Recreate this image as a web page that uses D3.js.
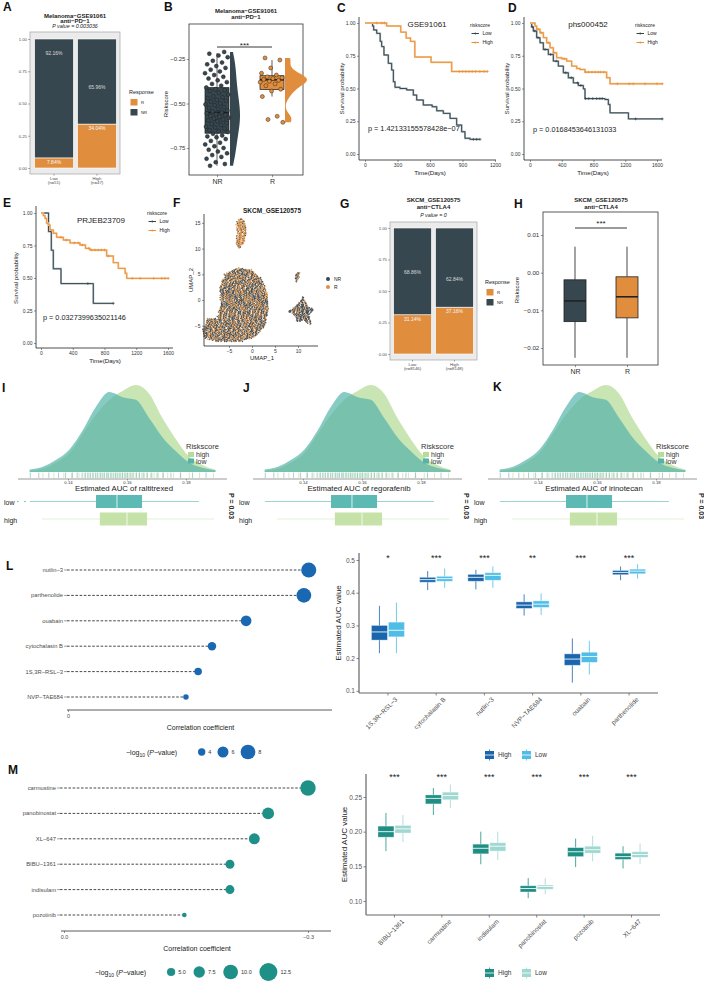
<!DOCTYPE html>
<html>
<head>
<meta charset="utf-8">
<script src="https://cdn.jsdelivr.net/npm/d3@7/dist/d3.min.js"></script>
<style>
html,body{margin:0;padding:0;background:#fff;}
svg{display:block;}
</style>
</head>
<body>
<svg id="fig" width="704" height="985" xmlns="http://www.w3.org/2000/svg"></svg>
<script>
// ======================= DATA =======================
// A : Melanoma-GSE91061 anti-PD-1 response by risk group
const aGroups = ["Low", "High"];
const aGroupN = ["(n=51)", "(n=47)"];
const aPctR = [7.84, 34.04];
const aPctNR = [92.16, 65.96];
const aPValue = "0.003036";

// B : riskscore by response (raincloud)
const bGroups = ["NR", "R"];
const bRiskNR = [-0.85,-0.84,-0.83,-0.81,-0.80,-0.79,-0.78,-0.77,-0.76,-0.75,-0.74,-0.73,-0.72,-0.71,-0.70,-0.69,-0.685,-0.68,-0.67,
  -0.66,-0.655,-0.65,-0.64,-0.635,-0.63,-0.62,-0.615,-0.61,-0.60,-0.595,-0.59,-0.585,-0.58,-0.575,-0.57,-0.565,-0.56,-0.555,-0.55,
  -0.545,-0.54,-0.53,-0.525,-0.52,-0.51,-0.505,-0.50,-0.49,-0.485,-0.48,-0.47,-0.465,-0.46,-0.45,-0.44,-0.43,-0.425,-0.42,
  -0.41,-0.40,-0.39,-0.38,-0.37,-0.36,-0.35,-0.34,-0.33,-0.32,-0.31,-0.30,-0.29,-0.28,-0.27,-0.26,-0.24,-0.23,-0.22,-0.21];
const bRiskR = [-0.244,-0.256,-0.30,-0.33,-0.34,-0.35,-0.355,-0.36,-0.365,-0.37,-0.375,-0.38,-0.39,-0.40,-0.42,-0.43,-0.461,-0.572,-0.59,-0.606];
const bBoxNR = [-0.85, -0.667, -0.55, -0.411, -0.217];   // min, q1, median, q3, max
const bBoxR  = [-0.461, -0.422, -0.367, -0.344, -0.256];

// C : GSE91061 survival
const cLowT  = [0,70,80,108,140,154,175,215,246,262,277,323,385,446,477,538,620,662,723,785,846,892,923,969,1062];
const cLowS  = [1,0.977,0.947,0.921,0.86,0.82,0.756,0.692,0.641,0.552,0.509,0.50,0.489,0.45,0.412,0.374,0.361,0.33,0.31,0.272,0.221,0.17,0.12,0.112,0.112];
const cLowCensor  = [1000,1030,1062];
const cHighT = [0,200,330,380,420,460,610,800,1130];
const cHighS = [1,0.977,0.93,0.885,0.86,0.74,0.70,0.63,0.63];
const cHighCensor = [108,154,180,870,900,930,960,990,1020,1060,1100,1130];
const cPText = "p = 1.42133155578428e\u221207";

// D : phs000452 survival
const dLowT  = [0,21,42,84,126,168,231,294,357,420,483,546,609,672,693,945,987,1008,1240,1667];
const dLowS  = [1,0.97,0.939,0.888,0.849,0.798,0.76,0.709,0.671,0.62,0.582,0.543,0.523,0.497,0.423,0.416,0.378,0.314,0.268,0.268];
const dLowCensor  = [30,60,100,190,260,330,450,520,600,640,700,740,790,840,880,910,1330,1667];
const dHighT = [0,63,84,126,168,210,252,294,336,399,462,525,588,630,693,966,1008,1667];
const dHighS = [1,0.977,0.952,0.926,0.888,0.849,0.811,0.773,0.735,0.727,0.709,0.671,0.653,0.645,0.625,0.582,0.536,0.536];
const dHighCensor = [100,140,230,300,430,700,740,780,820,860,890,930,1100,1250,1300,1450,1600,1667];
const dPText = "p = 0.0168453646131033";

// E : PRJEB23709 survival
const eLowT  = [0,95,130,155,252,659,911];
const eLowS  = [1,0.857,0.714,0.571,0.457,0.305,0.305];
const eLowCensor  = [590,911];
const eHighT = [0,29,50,71,92,113,155,197,281,365,491,560,617,827,911,974,1060,1080,1604];
const eHighS = [1,0.98,0.959,0.921,0.908,0.869,0.844,0.813,0.792,0.77,0.754,0.728,0.715,0.669,0.618,0.574,0.536,0.497,0.497];
const eHighCensor = [250,320,420,470,520,600,640,680,720,760,800,850,1150,1250,1420,1520,1560,1604];
const ePText = "p = 0.0327399635021146";

// F : UMAP clusters (outlines in UMAP units, share of R cells)
const fClusterNames = ["main", "top", "right", "tiny"];
const fClusterShareR = [0.45, 0.8, 0.28, 0.35];
const fClusterOutlines = [
  [[-6,5],[-3,6.3],[0,5.8],[2.2,4],[3.4,1],[3.6,-2],[2.8,-5],[1,-7],[-2,-8],[-5,-8],[-8,-8],[-10.4,-7.4],[-10.8,-5.6],[-9.6,-3.6],[-7.6,-3.6],[-6.8,-1],[-7,2.5]],
  [[-3.4,15.2],[-2.4,16],[-1.4,15],[-1.2,13],[-1.6,11.2],[-2.6,10],[-3.6,10.8],[-3.2,12.8]],
  [[7.8,-2.2],[9.5,-1.2],[10.6,-0.2],[11.2,0.8],[11.8,-0.8],[13.4,-1.9],[12.4,-3],[12.9,-4.9],[11,-4],[9.8,-4.3],[9.4,-3]],
  [[9.3,5.2],[10.4,5.3],[10.1,3.9],[9.7,3.3],[9.4,4]]
];

// G : SKCM_GSE120575 anti-CTLA4
const gGroups = ["Low", "High"];
const gGroupN = ["(n=8146)", "(n=8148)"];
const gPctR = [31.14, 37.16];
const gPctNR = [68.86, 62.84];
const gPValue = "0";

// H : riskscore by response
const hGroups = ["NR", "R"];
const hBoxNR = [-0.0226, -0.013, -0.0075, -0.0019, 0.0069];
const hBoxR  = [-0.0226, -0.012, -0.0064, -0.0011, 0.0069];

// I, J, K : estimated AUC densities
const ijkDrugs = ["raltitrexed", "regorafenib", "irinotecan"];
const ijkPText = ["P = 0.03", "P = 0.03", "P = 0.03"];
const densGrid = [0.127,0.1315,0.136,0.1405,0.145,0.1495,0.154,0.1585,0.163,0.1675,0.172,0.1765,0.181,0.1855,0.19];
const densLow  = [0.03,0.06,0.14,0.26,0.48,0.75,0.92,0.86,0.83,0.62,0.40,0.24,0.11,0.05,0.02];
const densHigh = [0.015,0.04,0.11,0.22,0.44,0.66,0.83,0.93,1.0,0.90,0.62,0.38,0.18,0.08,0.025];
const aucBoxLow  = [0.1271, 0.1495, 0.1566, 0.1651, 0.1844];
const aucBoxHigh = [0.1312, 0.1508, 0.1600, 0.1668, 0.1895];
const aucOutliersLow = [0.1230, 0.1254];
const rugLow = [0.1272,0.1301,0.1335,0.1368,0.1392,0.1415,0.1431,0.1448,0.1459,0.1467,0.1476,0.1484,0.1493,0.1501,0.1509,0.1516,0.1523,0.1531,0.1538,0.1546,0.1553,0.1561,0.1569,0.1577,0.1585,0.1594,0.1602,0.1611,0.1620,0.1631,0.1642,0.1655,0.1668,0.1684,0.1702,0.1723,0.1749,0.1781,0.1822,0.1868];
const rugHigh = [0.1315,0.1352,0.1386,0.1412,0.1437,0.1455,0.1471,0.1486,0.1498,0.1511,0.1522,0.1534,0.1545,0.1556,0.1565,0.1574,0.1583,0.1591,0.1599,0.1607,0.1615,0.1623,0.1632,0.1641,0.1650,0.1659,0.1669,0.1680,0.1692,0.1706,0.1721,0.1738,0.1758,0.1782,0.1811,0.1846,0.1893];

// L : correlation lollipop + AUC boxes
const lDrugs = ["nutlin\u22123", "parthenolide", "ouabain", "cytochalasin B", "1S,3R\u2212RSL\u22123", "NVP\u2212TAE684"];
const lCorr = [0.296, 0.290, 0.219, 0.177, 0.160, 0.145];
const lLogP = [8.2, 8.0, 5.8, 4.6, 4.1, 3.0];
const lSizeBreaks = [4, 6, 8];
const lBoxDrugs = ["1S,3R\u2212RSL\u22123", "cytochalasin B", "nutlin\u22123", "NVP\u2212TAE684", "ouabain", "parthenolide"];
const lSig = ["*", "***", "***", "**", "***", "***"];
const lHigh = [[0.215,0.255,0.28,0.30,0.36],[0.408,0.432,0.44,0.447,0.466],[0.41,0.435,0.447,0.456,0.47],[0.33,0.352,0.362,0.372,0.395],[0.125,0.178,0.197,0.213,0.26],[0.438,0.455,0.462,0.468,0.48]];
const lLow  = [[0.215,0.265,0.285,0.31,0.37],[0.415,0.435,0.443,0.45,0.474],[0.415,0.438,0.453,0.461,0.48],[0.332,0.355,0.365,0.375,0.398],[0.15,0.187,0.205,0.218,0.253],[0.443,0.458,0.466,0.472,0.487]];
const lYTicks = [0.1, 0.2, 0.3, 0.4, 0.5];

// M : correlation lollipop + AUC boxes
const mDrugs = ["carmustine", "panobinostat", "XL\u2212647", "BIBU\u22121361", "indisulam", "pozotinib"];
const mCorr = [-0.300, -0.251, -0.234, -0.204, -0.204, -0.148];
const mLogP = [10.5, 7.8, 7.1, 5.6, 5.6, 2.2];
const mSizeBreaks = [5.0, 7.5, 10.0, 12.5];
const mBoxDrugs = ["BIBU\u22121361", "carmustine", "indisulam", "panobinostat", "pozotinib", "XL\u2212647"];
const mSig = ["***", "***", "***", "***", "***", "***"];
const mHigh = [[0.172,0.192,0.2,0.208,0.227],[0.224,0.24,0.248,0.253,0.263],[0.153,0.168,0.176,0.182,0.2],[0.104,0.113,0.118,0.122,0.133],[0.149,0.164,0.171,0.177,0.19],[0.147,0.16,0.164,0.169,0.179]];
const mLow  = [[0.185,0.198,0.204,0.209,0.224],[0.234,0.246,0.252,0.257,0.268],[0.159,0.172,0.179,0.184,0.2],[0.11,0.117,0.121,0.123,0.133],[0.157,0.169,0.174,0.179,0.194],[0.153,0.163,0.167,0.171,0.183]];
const mYTicks = [0.10, 0.15, 0.20, 0.25];

// ======================= STYLE =======================
const FONT = "'Liberation Sans', Arial, Helvetica, sans-serif";
const C_NR = "#37474f", C_R = "#e08e3e";
const C_KM_LOW = "#34444c", C_KM_HIGH = "#e8913a";
const C_KM_LOW_HALO = "#a9b6bb", C_KM_HIGH_HALO = "#f6c592";
const C_DHIGH = "#b5dc9a", C_DLOW = "#56b3ab";
const C_BOX_LOW = "#5cb9b3", C_BOX_HIGH = "#c5e2a8";
const C_L = "#1b68b2", C_LHIGH = "#1a66ad", C_LLOW = "#4fbde6";
const C_M = "#1f9088", C_MHIGH = "#1f8f85", C_MLOW = "#9fd7d1";

const svg = d3.select("#fig").attr("font-family", FONT);
svg.append("rect").attr("width", 704).attr("height", 985).attr("fill", "#fff");

function txt(g, x, y, s, o = {}) {
  const t = g.append("text").attr("x", x).attr("y", y).text(s)
    .attr("font-size", o.size || 6).attr("fill", o.fill || "#222")
    .attr("text-anchor", o.anchor || "start");
  if (o.weight) t.attr("font-weight", o.weight);
  if (o.italic) t.attr("font-style", "italic");
  if (o.rotate != null) t.attr("transform", `rotate(${o.rotate},${x},${y})`);
  return t;
}
function axisG(g, orient, scale, o) {
  const gen = (orient === "left" ? d3.axisLeft : d3.axisBottom)(scale)
    .tickValues(o.ticks).tickSizeInner(o.tick ?? 2).tickSizeOuter(0).tickPadding(o.pad ?? 1.5);
  if (o.fmt) gen.tickFormat(o.fmt);
  const ag = g.append("g")
    .attr("transform", orient === "left" ? `translate(${o.at},0)` : `translate(0,${o.at})`)
    .call(gen);
  ag.attr("font-family", FONT).attr("font-size", o.size ?? 5);
  ag.select(".domain").remove();
  ag.selectAll(".tick line").attr("stroke", o.stroke ?? "#333").attr("stroke-width", o.sw ?? 0.5);
  ag.selectAll(".tick text").attr("fill", o.fill ?? "#333");
  return ag;
}
function hline(g, x1, x2, y, col, w) {
  return g.append("line").attr("x1", x1).attr("x2", x2).attr("y1", y).attr("y2", y).attr("stroke", col).attr("stroke-width", w);
}
function vline(g, x, y1, y2, col, w) {
  return g.append("line").attr("x1", x).attr("x2", x).attr("y1", y1).attr("y2", y2).attr("stroke", col).attr("stroke-width", w);
}

// panel letters
const letters = [["A",3,11],["B",164,11],["C",337,12],["D",508,12],["E",3,207],["F",173,207],["G",340,208],["H",514,208],["I",2,392],["J",243,392],["K",493,391],["L",6,570],["M",8,774]];
letters.forEach(([l, x, y]) => txt(svg, x, y, l, {size: 12, weight: "bold", fill: "#111"}));

// ======================= A & G =======================
function stackPanel(o) {
  const g = svg.append("g");
  const [bx0, by0, bx1, by1] = o.box;
  g.append("rect").attr("x", bx0).attr("y", by0).attr("width", bx1 - bx0).attr("height", by1 - by0)
    .attr("fill", "#ebebeb").attr("stroke", "#a3a3a3").attr("stroke-width", 0.7);
  const y = d3.scaleLinear().domain([0, 1]).range(o.yr);
  const x = d3.scaleBand().domain(o.groups).range(o.xr).paddingInner(0.1).paddingOuter(0.04);
  axisG(g, "left", y, {at: bx0, ticks: [0, 0.25, 0.5, 0.75, 1], fmt: d3.format(".2f"), size: 4.3, fill: "#4d4d4d", stroke: "#4d4d4d", tick: 1.8, pad: 1.2});
  o.groups.forEach((grp, i) => {
    const r = o.pctR[i] / 100, n = o.pctNR[i] / 100, bx = x(grp), bw = x.bandwidth(), cx = bx + bw / 2;
    g.append("rect").attr("x", bx).attr("y", y(r)).attr("width", bw).attr("height", y(0) - y(r))
      .attr("fill", C_R).attr("stroke", "#fff").attr("stroke-width", 0.6);
    g.append("rect").attr("x", bx).attr("y", y(r + n)).attr("width", bw).attr("height", y(r) - y(r + n))
      .attr("fill", C_NR).attr("stroke", "#fff").attr("stroke-width", 0.6);
    txt(g, cx, y(n) + 6.3, d3.format(".2f")(o.pctNR[i]) + "%", {size: 5, fill: "#d9d9d9", anchor: "middle"});
    txt(g, cx, y(r) + 6.3, d3.format(".2f")(o.pctR[i]) + "%", {size: 5, fill: "#f5f5f5", anchor: "middle"});
    vline(g, cx, by1, by1 + 1.6, "#4d4d4d", 0.5);
    txt(g, cx, by1 + 5.5, grp, {size: 4.3, fill: "#4d4d4d", anchor: "middle"});
    txt(g, cx, by1 + 10, o.ns[i], {size: 4.3, fill: "#4d4d4d", anchor: "middle"});
  });
  const tc = (bx0 + bx1) / 2;
  txt(g, tc, o.ty[0], o.title1, {size: 6, weight: "bold", anchor: "middle"});
  txt(g, tc, o.ty[1], o.title2, {size: 6, weight: "bold", anchor: "middle"});
  txt(g, tc, o.ty[2], "P value = " + o.pval, {size: 5.3, italic: true, anchor: "middle"});
  const [lx, ly] = o.leg;
  txt(g, lx, ly, "Response", {size: 5.5});
  [["R", C_R], ["NR", C_NR]].forEach(([lab, col], k) => {
    g.append("rect").attr("x", lx + 1.5).attr("y", ly + 5 + k * 10).attr("width", 7).attr("height", 6.5).attr("fill", col);
    txt(g, lx + 12, ly + 10.3 + k * 10, lab, {size: 4.3});
  });
}
stackPanel({groups: aGroups, ns: aGroupN, pctR: aPctR, pctNR: aPctNR, pval: aPValue,
  title1: "Melanoma\u2212GSE91061", title2: "anti\u2212PD\u22121",
  box: [30, 32, 120, 174], yr: [168, 39], xr: [33, 118], ty: [17.5, 22.5, 28], leg: [129, 94]});
stackPanel({groups: gGroups, ns: gGroupN, pctR: gPctR, pctNR: gPctNR, pval: gPValue,
  title1: "SKCM_GSE120575", title2: "anti\u2212CTLA4",
  box: [390, 222, 477, 360], yr: [354, 228], xr: [392, 475], ty: [202, 209, 216.5], leg: [485, 284]});

// ======================= B =======================
function nrd0(v) {
  const s = v.slice().sort(d3.ascending);
  const iqr = d3.quantileSorted(s, 0.75) - d3.quantileSorted(s, 0.25);
  return 0.9 * Math.min(d3.deviation(s), iqr / 1.34) * Math.pow(s.length, -0.2);
}
function kde(values, bw) {
  const lo = d3.min(values), hi = d3.max(values);
  return d3.range(61).map(i => {
    const v = lo + (hi - lo) * i / 60;
    return [v, d3.mean(values, d => Math.exp(-0.5 * ((v - d) / bw) ** 2))];
  });
}
(function panelB() {
  const g = svg.append("g");
  const box = [189, 24, 303, 175];
  g.append("rect").attr("x", box[0]).attr("y", box[1]).attr("width", box[2] - box[0]).attr("height", box[3] - box[1])
    .attr("fill", "none").attr("stroke", "#333").attr("stroke-width", 0.8);
  const y = d3.scaleLinear().domain([-0.75, -0.25]).range([148, 59]);
  const x = d3.scalePoint().domain(bGroups).range([217, 272]);
  axisG(g, "left", y, {at: box[0], ticks: [-0.75, -0.5, -0.25], fmt: d3.format(".2f"), size: 6, tick: 2.2});
  axisG(g, "bottom", x, {at: box[3], ticks: bGroups, size: 7, tick: 2.2, pad: 1.5});
  const sets = [[bRiskNR, bBoxNR, C_NR, 10], [bRiskR, bBoxR, C_R, 22]];
  sets.forEach(([vals, st, col, vw], i) => {
    const cx = x(bGroups[i]);
    const dens = kde(vals, nrd0(vals));
    const dmax = d3.max(dens, d => d[1]);
    const vx0 = cx + 13;
    g.append("path").datum(dens)
      .attr("d", d3.area().curve(d3.curveBasis).y(d => y(d[0])).x0(vx0).x1(d => vx0 + d[1] / dmax * vw))
      .attr("fill", col);
    vline(g, cx, y(st[0]), y(st[1]), "#1a1a1a", 0.7);
    vline(g, cx, y(st[3]), y(st[4]), "#1a1a1a", 0.7);
    g.append("rect").attr("x", cx - 12).attr("y", y(st[3])).attr("width", 24).attr("height", y(st[1]) - y(st[3]))
      .attr("fill", col).attr("stroke", "#1a1a1a").attr("stroke-width", 0.7);
    hline(g, cx - 12, cx + 12, y(st[2]), "#1a1a1a", 1.5);
    vals.forEach((v, k) => {
      const jx = cx + (((k * 0.6180339887 + 0.21) % 1) - 0.5) * 24;
      g.append("circle").attr("cx", jx).attr("cy", y(v)).attr("r", 2)
        .attr("fill", col).attr("stroke", "#1a1a1a").attr("stroke-width", 0.45);
    });
  });
  hline(g, x("NR"), x("R"), 47, "#222", 0.9);
  txt(g, (x("NR") + x("R")) / 2, 47.5, "***", {size: 8, anchor: "middle"});
  txt(g, 168, 104, "Riskscore", {size: 6, anchor: "middle", rotate: -90});
  txt(g, 246, 13, "Melanoma\u2212GSE91061", {size: 6, weight: "bold", anchor: "middle"});
  txt(g, 246, 19, "anti\u2212PD\u22121", {size: 6, weight: "bold", anchor: "middle"});
})();

// ======================= C, D, E (KM) =======================
function stepAt(T, S, t) {
  let s = S[0];
  for (let i = 0; i < T.length; i++) if (T[i] <= t) s = S[i];
  return s;
}
function kmPanel(o) {
  const g = svg.append("g");
  const x = d3.scaleLinear().domain([0, o.tMax]).range(o.tr);
  const y = d3.scaleLinear().domain([0, 1]).range(o.sr);
  vline(g, o.ax, o.ayTop, o.ay, "#222", 0.8);
  hline(g, o.ax, o.axRight, o.ay, "#222", 0.8);
  axisG(g, "left", y, {at: o.ax, ticks: [0, 0.25, 0.5, 0.75, 1], fmt: d3.format(".2f"), size: 5, tick: 2});
  axisG(g, "bottom", x, {at: o.ay, ticks: o.xTicks, fmt: d3.format("d"), size: 5, tick: 2});
  const line = d3.line().x(d => x(d[0])).y(d => y(d[1])).curve(d3.curveStepAfter);
  [[o.lowT, o.lowS, o.lowC, C_KM_LOW, C_KM_LOW_HALO], [o.highT, o.highS, o.highC, C_KM_HIGH, C_KM_HIGH_HALO]].forEach(([T, S, Cn, col, halo]) => {
    const data = d3.zip(T, S);
    g.append("path").datum(data).attr("d", line).attr("fill", "none").attr("stroke", halo).attr("stroke-width", 1.9);
    g.append("path").datum(data).attr("d", line).attr("fill", "none").attr("stroke", col).attr("stroke-width", 0.95);
    Cn.forEach(t => {
      const px = x(t), py = y(stepAt(T, S, t));
      g.append("path").attr("d", `M${px - 1.5},${py}h3M${px},${py - 1.5}v3`).attr("stroke", col).attr("stroke-width", 0.6);
    });
  });
  txt(g, o.name[1], o.name[2], o.name[0], {size: 8, anchor: "middle"});
  txt(g, o.p[1], o.p[2], o.p[0], {size: 7.3});
  txt(g, o.ylab[0], o.ylab[1], "Survival probability", {size: 6.2, anchor: "middle", rotate: -90});
  txt(g, o.xlab[0], o.xlab[1], "Time(Days)", {size: 6.2, anchor: "middle"});
  const [lx, ly] = o.leg;
  txt(g, lx, ly, "riskscore", {size: 5});
  [["Low", C_KM_LOW], ["High", C_KM_HIGH]].forEach(([lab, col], k) => {
    const yy = ly + 6.5 + k * 9;
    hline(g, lx + 1.5, lx + 9, yy, col, 1);
    g.append("path").attr("d", `M${lx + 5.25},${yy - 1.3}v2.6`).attr("stroke", col).attr("stroke-width", 0.6);
    txt(g, lx + 12.5, yy + 1.8, lab, {size: 5});
  });
}
kmPanel({tMax: 1200, tr: [365, 495], sr: [154, 23], ax: 359, ayTop: 17, ay: 160, axRight: 496, xTicks: [0, 300, 600, 900, 1200],
  lowT: cLowT, lowS: cLowS, lowC: cLowCensor, highT: cHighT, highS: cHighS, highC: cHighCensor,
  name: ["GSE91061", 427, 27], p: [cPText, 368, 131], ylab: [344, 88.5], xlab: [430, 175], leg: [470, 27]});
kmPanel({tMax: 1600, tr: [530, 657], sr: [154, 23], ax: 524, ayTop: 17, ay: 160, axRight: 662, xTicks: [0, 400, 800, 1200, 1600],
  lowT: dLowT, lowS: dLowS, lowC: dLowCensor, highT: dHighT, highS: dHighS, highC: dHighCensor,
  name: ["phs000452", 588, 27], p: [dPText, 533, 132], ylab: [509, 88.5], xlab: [593, 175], leg: [635, 27]});
kmPanel({tMax: 1600, tr: [41, 168], sr: [343, 213], ax: 36, ayTop: 206, ay: 348, axRight: 173, xTicks: [0, 400, 800, 1200, 1600],
  lowT: eLowT, lowS: eLowS, lowC: eLowCensor, highT: eHighT, highS: eHighS, highC: eHighCensor,
  name: ["PRJEB23709", 101, 223], p: [ePText, 43, 320], ylab: [18, 278], xlab: [105, 363], leg: [147, 215]});

// ======================= F (UMAP) =======================
(function panelF() {
  const g = svg.append("g");
  const x = d3.scaleLinear().domain([-5, 10]).range([229, 298]);
  const y = d3.scaleLinear().domain([-5, 15]).range([325.7, 222.9]);
  const step = 0.24;
  let k = 0;
  fClusterOutlines.forEach((poly, ci) => {
    const ux = d3.extent(poly, p => p[0]), vy = d3.extent(poly, p => p[1]);
    let row = 0;
    for (let v = vy[0]; v <= vy[1]; v += step * 0.9, row++) {
      for (let u = ux[0] + (row % 2) * step / 2; u <= ux[1]; u += step) {
        if (!d3.polygonContains(poly, [u, v])) continue;
        k++;
        const a1 = (k * 0.7548776662) % 1, a2 = (k * 0.5698402910) % 1;
        const uu = u + (a1 - 0.5) * step * 0.9, vv = v + (a2 - 0.5) * step * 0.9;
        if (((k * 0.3819660113) % 1) < 0.06) continue;
        const isR = ((k * 0.6180339887 + a2 * 0.3) % 1) < fClusterShareR[ci];
        g.append("circle").attr("cx", x(uu)).attr("cy", y(vv)).attr("r", 0.75)
          .attr("fill", isR ? C_R : C_NR).attr("fill-opacity", 0.92);
      }
    }
  });
  vline(g, 204, 214, 346, "#222", 0.8);
  hline(g, 204, 318, 346, "#222", 0.8);
  axisG(g, "left", y, {at: 204, ticks: [-5, 0, 5, 10, 15], fmt: d3.format("d"), size: 5, tick: 2});
  axisG(g, "bottom", x, {at: 346, ticks: [-5, 0, 5, 10], fmt: d3.format("d"), size: 5, tick: 2});
  txt(g, 193, 280, "UMAP_2", {size: 6, anchor: "middle", rotate: -90});
  txt(g, 262, 360, "UMAP_1", {size: 6, anchor: "middle"});
  txt(g, 272, 213, "SKCM_GSE120575", {size: 6.5, weight: "bold", anchor: "middle"});
  [["NR", C_NR], ["R", C_R]].forEach(([lab, col], i) => {
    g.append("circle").attr("cx", 328).attr("cy", 279 + i * 8).attr("r", 2).attr("fill", col);
    txt(g, 334, 281 + i * 8, lab, {size: 5});
  });
})();

// ======================= H =======================
(function panelH() {
  const g = svg.append("g");
  const box = [543, 212, 658, 365];
  g.append("rect").attr("x", box[0]).attr("y", box[1]).attr("width", box[2] - box[0]).attr("height", box[3] - box[1])
    .attr("fill", "none").attr("stroke", "#333").attr("stroke-width", 0.8);
  const y = d3.scaleLinear().domain([-0.02, 0.01]).range([348, 235]);
  const x = d3.scalePoint().domain(hGroups).range([575, 627]);
  axisG(g, "left", y, {at: box[0], ticks: [-0.02, -0.01, 0, 0.01], fmt: d3.format(".2f"), size: 6.2, tick: 2.2});
  axisG(g, "bottom", x, {at: box[3], ticks: hGroups, size: 7, tick: 2.2, pad: 1.5});
  [[hBoxNR, C_NR], [hBoxR, C_R]].forEach(([st, col], i) => {
    const cx = x(hGroups[i]);
    vline(g, cx, y(st[0]), y(st[1]), "#333", 0.9);
    vline(g, cx, y(st[3]), y(st[4]), "#333", 0.9);
    g.append("rect").attr("x", cx - 11).attr("y", y(st[3])).attr("width", 22).attr("height", y(st[1]) - y(st[3]))
      .attr("fill", col).attr("stroke", "#222").attr("stroke-width", 0.8);
    hline(g, cx - 11, cx + 11, y(st[2]), "#222", 1.6);
  });
  hline(g, x("NR"), x("R"), 228, "#222", 0.9);
  txt(g, 601, 226, "***", {size: 8, anchor: "middle"});
  txt(g, 519, 290, "Riskscore", {size: 6, anchor: "middle", rotate: -90});
  txt(g, 601, 202, "SKCM_GSE120575", {size: 6, weight: "bold", anchor: "middle"});
  txt(g, 601, 209, "anti\u2212CTLA4", {size: 6, weight: "bold", anchor: "middle"});
})();

// ======================= I, J, K =======================
function aucPanel(ox, idx) {
  const g = svg.append("g");
  const x = d3.scaleLinear().domain([0.14, 0.18]).range([ox + 68, ox + 186]);
  const yd = d3.scaleLinear().domain([0, 1]).range([472, 385]);
  const area = d3.area().x(d => x(d[0])).y0(472).y1(d => yd(d[1])).curve(d3.curveMonotoneX);
  g.append("path").datum(d3.zip(densGrid, densHigh)).attr("d", area).attr("fill", C_DHIGH).attr("fill-opacity", 0.75);
  g.append("path").datum(d3.zip(densGrid, densLow)).attr("d", area).attr("fill", C_DLOW).attr("fill-opacity", 0.7);
  rugHigh.forEach(v => vline(g, x(v), 472.5, 478, "#a9d58a", 0.5));
  rugLow.forEach(v => vline(g, x(v), 472.5, 478, "#4fa9a2", 0.5));
  hline(g, ox + 18, ox + 227, 479, "#555", 0.6);
  axisG(g, "bottom", x, {at: 479, ticks: [0.14, 0.16, 0.18], fmt: d3.format(".2f"), size: 4.3, tick: 1.5, pad: 0.6, stroke: "#555", fill: "#333"});
  txt(g, ox + 124, 491, "Estimated AUC of " + ijkDrugs[idx], {size: 7.8, anchor: "middle"});
  const yb = d3.scalePoint().domain(["low", "high"]).range([501.5, 519]);
  [["low", aucBoxLow, C_BOX_LOW, "#7fcac5"], ["high", aucBoxHigh, C_BOX_HIGH, "#d9edc8"]].forEach(([lab, st, col, wc]) => {
    const cy = yb(lab);
    hline(g, x(st[0]), x(st[1]), cy, wc, 0.8);
    hline(g, x(st[3]), x(st[4]), cy, wc, 0.8);
    g.append("rect").attr("x", x(st[1])).attr("y", cy - 6.5).attr("width", x(st[3]) - x(st[1])).attr("height", 13).attr("fill", col);
    vline(g, x(st[2]), cy - 6.5, cy + 6.5, "#fff", 0.8);
    txt(g, ox + 4, cy + 3.5, lab, {size: 7, fill: "#222"});
  });
  if (idx === 0) aucOutliersLow.forEach(v => g.append("circle").attr("cx", x(v)).attr("cy", yb("low")).attr("r", 0.8).attr("fill", C_BOX_LOW));
  txt(g, ox + 229, 506, ijkPText[idx], {size: 7, weight: "bold", anchor: "middle", rotate: 90});
  txt(g, ox + 186, 449, "Riskscore", {size: 7.5, fill: "#333"});
  [["high", C_DHIGH], ["low", C_DLOW]].forEach(([lab, col], k) => {
    g.append("rect").attr("x", ox + 188).attr("y", 452 + k * 6.5).attr("width", 6).attr("height", 5).attr("fill", col);
    txt(g, ox + 196, 457 + k * 6.5, lab, {size: 7, fill: "#333"});
  });
}
[0, 235, 470].forEach((ox, i) => aucPanel(ox, i));

// ======================= L & M left (lollipop) =======================
function lollipop(o) {
  const g = svg.append("g");
  const y = d3.scalePoint().domain(o.drugs).range(o.yr);
  const x = d3.scaleLinear().domain(o.xd).range(o.xr);
  const r = d3.scaleLinear().domain(o.sd).range(o.sr);
  o.drugs.forEach((d, i) => {
    const yy = y(d);
    txt(g, o.labelX, yy + 2, d, {size: 5.8, fill: "#4d4d4d", anchor: "end"});
    hline(g, o.labelX + 1, o.lineX0, yy, "#444", 0.5);
    g.append("line").attr("x1", o.lineX0).attr("x2", x(o.corr[i])).attr("y1", yy).attr("y2", yy)
      .attr("stroke", "#1a1a1a").attr("stroke-width", 0.8).attr("stroke-dasharray", "2.6,1.6");
    g.append("circle").attr("cx", x(o.corr[i])).attr("cy", yy).attr("r", r(o.logp[i])).attr("fill", o.col);
  });
  hline(g, o.axis[0], o.axis[1], o.axis[2], "#333", 0.8);
  axisG(g, "bottom", x, {at: o.axis[2], ticks: o.ticks, fmt: o.fmt, size: 5.5, tick: 2, pad: 2, fill: "#4d4d4d"});
  txt(g, (o.axis[0] + o.axis[1]) / 2 + 1, o.axis[2] + 20, "Correlation coefficient", {size: 7, anchor: "middle"});
  const [lx, ly] = o.leg;
  const t = g.append("text").attr("x", lx).attr("y", ly + 2.5).attr("font-size", 7).attr("fill", "#222");
  t.append("tspan").text("\u2212log");
  t.append("tspan").text("10").attr("font-size", 5).attr("dy", 2);
  t.append("tspan").text(" (").attr("dy", -2);
  t.append("tspan").text("P").attr("font-style", "italic");
  t.append("tspan").text("\u2212value)");
  let cur = lx + 72;
  o.breaks.forEach(b => {
    const rr = r(b);
    g.append("circle").attr("cx", cur + rr).attr("cy", ly).attr("r", rr).attr("fill", o.col);
    const lab = o.bfmt(b);
    txt(g, cur + 2 * rr + 3, ly + 2, lab, {size: 5.5, fill: "#333"});
    cur += 2 * rr + 3 + lab.length * 3.1 + 6;
  });
}
lollipop({drugs: lDrugs, corr: lCorr, logp: lLogP, yr: [570, 697], xd: [0, 0.3], xr: [68, 312],
  sd: [0, 8], sr: [0, 7.36], col: C_L, labelX: 63, lineX0: 67, axis: [67, 332, 710],
  ticks: [0], fmt: d3.format("d"), leg: [126, 752], breaks: lSizeBreaks, bfmt: d3.format("d")});
lollipop({drugs: mDrugs, corr: mCorr, logp: mLogP, yr: [788, 915], xd: [0, -0.3], xr: [64, 308],
  sd: [5, 12.5], sr: [4.1, 9], col: C_M, labelX: 56, lineX0: 60, axis: [61, 331, 931],
  ticks: [0, -0.3], fmt: d3.format(".1f"), leg: [95, 972], breaks: mSizeBreaks, bfmt: d3.format(".1f")});

// ======================= L & M right (boxplots) =======================
function boxPanel(o) {
  const g = svg.append("g");
  const x = d3.scalePoint().domain(o.drugs).range([o.ax0, o.ax1]).padding(0.6);
  const y = d3.scaleLinear().domain(o.yd).range(o.yr);
  const off = 8.5, bw = 16;
  o.drugs.forEach((d, i) => {
    [[o.high[i], o.cHigh, -1], [o.low[i], o.cLow, 1]].forEach(([s, col, side]) => {
      const cx = x(d) + side * off;
      vline(g, cx, y(s[0]), y(s[4]), col, 0.8);
      g.append("rect").attr("x", cx - bw / 2).attr("y", y(s[3])).attr("width", bw).attr("height", y(s[1]) - y(s[3]))
        .attr("fill", col).attr("stroke", "#ffffff").attr("stroke-opacity", 0.45).attr("stroke-width", 0.8);
      hline(g, cx - bw / 2, cx + bw / 2, y(s[2]), "#ffffff", 1).attr("stroke-opacity", 0.85);
    });
    txt(g, x(d), o.starY, o.sig[i], {size: 9, anchor: "middle", fill: "#222"});
    txt(g, x(d) + 10, o.axY + 7, d, {size: 6.5, fill: "#4d4d4d", anchor: "end", rotate: -45});
  });
  vline(g, o.ax0, o.yTop, o.axY, "#666", 1.2);
  hline(g, o.ax0, o.ax1, o.axY, "#666", 1.2);
  axisG(g, "left", y, {at: o.ax0, ticks: o.ticks, fmt: o.fmt, size: 6.5, tick: 2.5, pad: 1.5, fill: "#555", stroke: "#666", sw: 0.8});
  g.selectAll(null).data(o.drugs).enter().append("line")
    .attr("x1", d => x(d)).attr("x2", d => x(d)).attr("y1", o.axY).attr("y2", o.axY + 2.5).attr("stroke", "#666").attr("stroke-width", 0.8);
  txt(g, o.titleX, (o.yTop + o.axY) / 2, "Estimated AUC value", {size: 8, anchor: "middle", rotate: -90});
  const ly = o.legY;
  [["High", o.cHigh], ["Low", o.cLow]].forEach(([lab, col], k) => {
    const lx = 485 + k * 37;
    vline(g, lx + 4.5, ly - 5.5, ly + 5.5, col, 0.8);
    g.append("rect").attr("x", lx).attr("y", ly - 4).attr("width", 9).attr("height", 8).attr("fill", col);
    hline(g, lx, lx + 9, ly, "#fff", 0.8);
    txt(g, lx + 13, ly + 2.3, lab, {size: 6.5, fill: "#333"});
  });
}
boxPanel({drugs: lBoxDrugs, high: lHigh, low: lLow, sig: lSig, cHigh: C_LHIGH, cLow: C_LLOW,
  ax0: 359, ax1: 658, yd: [0.1, 0.5], yr: [690.8, 560], yTop: 553, axY: 693, ticks: lYTicks, fmt: d3.format(".1f"),
  starY: 561, titleX: 341, legY: 755});
boxPanel({drugs: mBoxDrugs, high: mHigh, low: mLow, sig: mSig, cHigh: C_MHIGH, cLow: C_MLOW,
  ax0: 366, ax1: 660, yd: [0.1, 0.25], yr: [901, 797], yTop: 774, axY: 915, ticks: mYTicks, fmt: d3.format(".2f"),
  starY: 780, titleX: 347, legY: 973});
</script>
</body>
</html>
